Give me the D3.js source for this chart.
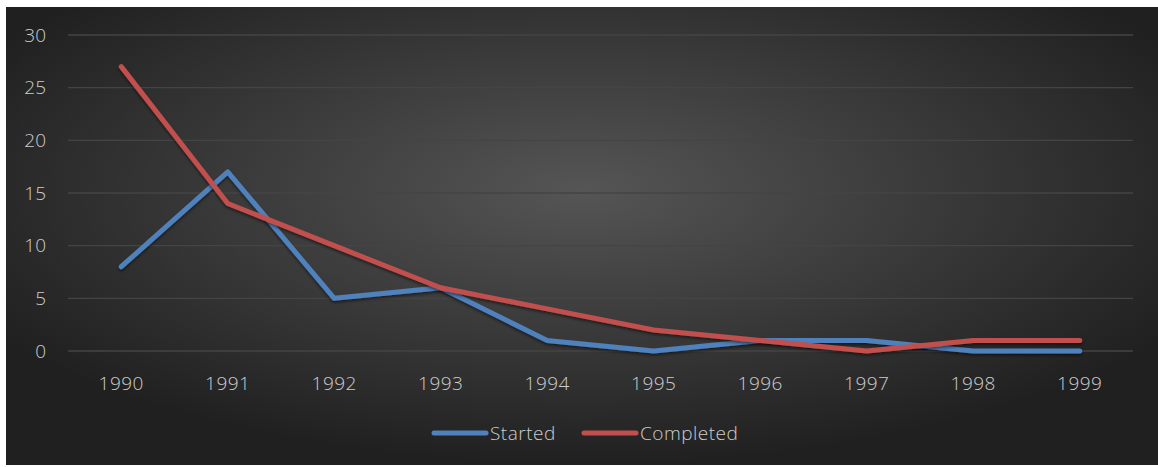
<!DOCTYPE html>
<html>
<head>
<meta charset="utf-8">
<script src="https://cdn.jsdelivr.net/npm/d3@7"></script>
<style>
  body { margin: 0; background: #fff; }
  text { font-family: "Open Sans", "Noto Sans", sans-serif; }
</style>
</head>
<body>
<svg id="chart" width="1158" height="467"></svg>
<script>
var years = ["1990", "1991", "1992", "1993", "1994", "1995", "1996", "1997", "1998", "1999"];
var started = [8, 17, 5, 6, 1, 0, 1, 1, 0, 0];
var completed = [27, 14, 10, 6, 4, 2, 1, 0, 1, 1];
var yTicks = [0, 5, 10, 15, 20, 25, 30];

var svg = d3.select("#chart");

// background gradient
var defs = svg.append("defs");
var grad = defs.append("radialGradient")
    .attr("id", "bg")
    .attr("cx", "50%").attr("cy", "40%").attr("r", "60%");
grad.append("stop").attr("offset", "0%").attr("stop-color", "#555555");
grad.append("stop").attr("offset", "100%").attr("stop-color", "#202020");

var shadow = defs.append("filter").attr("id", "shadow")
    .attr("x", "-5%").attr("y", "-5%").attr("width", "110%").attr("height", "120%");
shadow.append("feDropShadow")
    .attr("dx", 0).attr("dy", 2).attr("stdDeviation", 1.5)
    .attr("flood-color", "#000").attr("flood-opacity", 0.5);

svg.append("rect")
    .attr("x", 6).attr("y", 7)
    .attr("width", 1152).attr("height", 458)
    .attr("fill", "url(#bg)");

var x = d3.scaleBand().domain(years).range([68, 1133]);
var y = d3.scaleLinear().domain([0, 30]).range([351, 35]);

// gridlines
svg.append("g").selectAll("line")
    .data(yTicks)
    .enter().append("line")
    .attr("x1", 68).attr("x2", 1133)
    .attr("y1", function (d) { return y(d); })
    .attr("y2", function (d) { return y(d); })
    .attr("stroke", "#444444")
    .attr("stroke-width", 1.3);

// y labels
svg.append("g").selectAll("text")
    .data(yTicks)
    .enter().append("text")
    .attr("x", 46)
    .attr("y", function (d) { return y(d); })
    .attr("dy", "0.35em")
    .attr("text-anchor", "end")
    .attr("fill", "#cccccc")
    .attr("font-size", 19)
    .attr("font-weight", 300)
    .text(function (d) { return d; });

// x labels
svg.append("g").selectAll("text")
    .data(years)
    .enter().append("text")
    .attr("x", function (d) { return x(d) + x.bandwidth() / 2; })
    .attr("y", 383)
    .attr("dy", "0.35em")
    .attr("text-anchor", "middle")
    .attr("fill", "#cccccc")
    .attr("font-size", 19)
    .attr("font-weight", 300)
    .attr("letter-spacing", 0.5)
    .text(function (d) { return d; });

var line = d3.line()
    .x(function (d, i) { return x(years[i]) + x.bandwidth() / 2; })
    .y(function (d) { return y(d); });

var series = [
    { name: "Started", values: started, color: "#4f81bd" },
    { name: "Completed", values: completed, color: "#c0504d" }
];

svg.append("g").selectAll("path")
    .data(series)
    .enter().append("path")
    .attr("d", function (d) { return line(d.values); })
    .attr("fill", "none")
    .attr("stroke", function (d) { return d.color; })
    .attr("stroke-width", 5)
    .attr("stroke-linecap", "round")
    .attr("stroke-linejoin", "round")
    .attr("filter", "url(#shadow)");

// legend
var legendX = [434, 584];
var leg = svg.append("g").selectAll("g")
    .data(series)
    .enter().append("g")
    .attr("transform", function (d, i) { return "translate(" + legendX[i] + ",433)"; });
leg.append("line")
    .attr("x1", 0).attr("x2", 52)
    .attr("stroke", function (d) { return d.color; })
    .attr("stroke-width", 5)
    .attr("stroke-linecap", "round");
leg.append("text")
    .attr("x", 56)
    .attr("dy", "0.35em")
    .attr("fill", "#cccccc")
    .attr("font-size", 19)
    .attr("font-weight", 300)
    .attr("letter-spacing", 0.5)
    .text(function (d) { return d.name; });
</script>
</body>
</html>
